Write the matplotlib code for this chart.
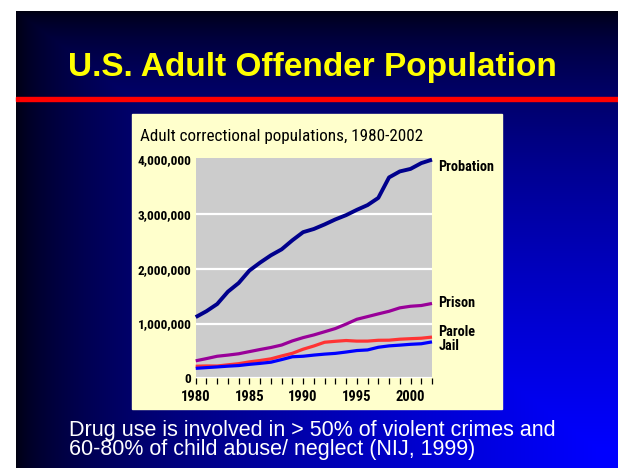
import numpy as np
import matplotlib.pyplot as plt
from matplotlib.patches import Rectangle

W, H = 618, 468
DPI = 100

# data (adult correctional populations)
years = list(range(1980, 2003))
probation = [1118097, 1225934, 1357264, 1582947, 1740948, 1968712, 2114621,
             2247158, 2356483, 2522125, 2670234, 2728472, 2811611, 2903061,
             2981022, 3077861, 3164996, 3296513, 3670441, 3779922, 3826209,
             3931731, 3995165]
prison = [319598, 360029, 402914, 423898, 448264, 487593, 526436, 562814,
          607766, 683367, 743382, 792535, 850566, 909381, 990147, 1078542,
          1127528, 1176922, 1224469, 1287172, 1316333, 1330007, 1367547]
parole = [220438, 225539, 224604, 246440, 266992, 300203, 325638, 355505,
          407977, 456803, 531407, 590442, 658601, 676100, 690371, 679421,
          679733, 694787, 696385, 714457, 723898, 732333, 753141]
jail = [182288, 195085, 207853, 221815, 233018, 254986, 272736, 294092,
        341893, 393303, 403019, 424129, 441781, 455500, 479800, 507044,
        518492, 567079, 592462, 605943, 621149, 631240, 665475]

series_names = ["Probation", "Prison", "Parole", "Jail"]
series_values = [probation, prison, parole, jail]
y_ticks = [0, 1000000, 2000000, 3000000, 4000000]
y_tick_labels = ["0", "1,000,000", "2,000,000", "3,000,000", "4,000,000"]

COLORS = ["#00008c", "#990099", "#ff3333", "#0000ff"]
WIDTHS = [2.8, 2.3, 2.3, 2.3]
LABEL_DY = [-5.3, 0, 3.6, -3.0]   # points, label nudge from line end

NARROW = ["Roboto Condensed", "DejaVu Sans"]
ARIAL = ["Liberation Sans", "DejaVu Sans"]


def fx(px):
    return px / W


def fy(py):
    return 1 - py / H


fig = plt.figure(figsize=(W / DPI, H / DPI), dpi=DPI, facecolor="white")

# slide background: corner gradient, dark top-left to bright blue bottom-right
bg = fig.add_axes([fx(16), 0, 1 - fx(16), fy(11)])
gx = np.clip(np.linspace(0, 1.03, 602), 0, 1)[None, :]
gy = np.clip(np.linspace(0, 1.04, 457), 0, 1)[:, None]
blue = (15 + 240 * np.minimum(gx, gy) ** 0.6) / 255
img = np.zeros((457, 602, 3))
img[..., 2] = blue
bg.imshow(img, aspect="auto", interpolation="bilinear")
bg.axis("off")

# red rule under the title
fig.patches.append(Rectangle((fx(16), fy(101)), 1 - fx(16), 4 / H,
                             transform=fig.transFigure, color="#ff0000",
                             zorder=2))
fig.text(fx(312), fy(76), "U.S. Adult Offender Population", ha="center",
         va="baseline", color="#ffff00", fontsize=24, fontweight="bold",
         family=ARIAL)

# pale yellow chart panel
fig.patches.append(Rectangle((fx(132), fy(409)), fx(502) - fx(132),
                             (409 - 114) / H, transform=fig.transFigure,
                             color="#ffffcc", zorder=2))
fig.text(fx(140), fy(141), "Adult correctional populations, 1980-2002",
         ha="left", va="baseline", fontsize=12.3, color="black",
         family=NARROW, zorder=3)

ax = fig.add_axes([fx(195.7), fy(378.3), fx(432) - fx(195.7),
                   (378.3 - 158.3) / H])
ax.set_zorder(3)
ax.set_facecolor("#cccccc")
ax.set_xlim(1980, 2002)
ax.set_ylim(0, 4020000)
for s in ax.spines.values():
    s.set_visible(False)
for t in y_ticks[:-1]:
    ax.axhline(t, color="white", lw=1.6, zorder=1)

for name, vals, c, lw, dy in zip(series_names, series_values, COLORS,
                                 WIDTHS, LABEL_DY):
    ax.plot(years, vals, color=c, lw=lw, zorder=3, clip_on=False,
            solid_capstyle="butt")
    ax.annotate(name, xy=(years[-1], vals[-1]), xytext=(4.5, dy),
                textcoords="offset points", ha="left", va="center",
                fontsize=10.3, fontweight="bold", family=NARROW,
                annotation_clip=False)

ax.set_xticks(years)
ax.set_xticklabels([str(y) if y % 5 == 0 else "" for y in years])
ax.set_yticks(y_ticks)
ax.set_yticklabels(y_tick_labels)
ax.tick_params(axis="x", direction="out", length=4.3, width=0.9,
               color="black", pad=4)
ax.tick_params(axis="y", length=0, pad=3)
for lab in ax.get_xticklabels():
    lab.set_family(NARROW)
    lab.set_fontweight("bold")
    lab.set_fontsize(10.5)
for lab in ax.get_yticklabels():
    lab.set_family(NARROW)
    lab.set_fontweight("bold")
    lab.set_fontsize(9.6)

fig.text(fx(69), fy(436), "Drug use is involved in > 50% of violent crimes and",
         ha="left", va="baseline", color="white", fontsize=15.5,
         family=ARIAL)
fig.text(fx(69), fy(455), "60-80% of child abuse/ neglect (NIJ, 1999)",
         ha="left", va="baseline", color="white", fontsize=15.5,
         family=ARIAL)

fig.savefig("out.png", dpi=DPI)
